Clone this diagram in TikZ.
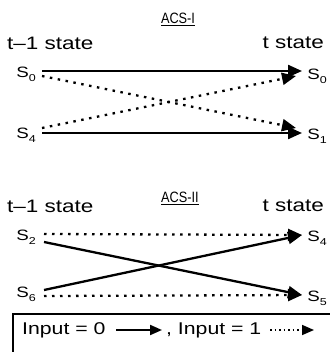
\documentclass[tikz,border=0pt]{standalone}
\usepackage{fontspec}
\setmainfont{Liberation Sans}[FakeStretch=1.25]
\newfontfamily\titlefont{Liberation Sans}[FakeStretch=0.85]
\usetikzlibrary{arrows.meta}
\newcommand{\stt}[1]{S\raisebox{-4pt}{\fontsize{10}{10}\selectfont #1}}
\begin{document}
\begin{tikzpicture}[x=1pt,y=-1pt,
  lbl/.style={font=\fontsize{18}{18}\selectfont, inner sep=0pt},
  st/.style={font=\fontsize{15}{15}\selectfont, inner sep=0pt},
  ttl/.style={font=\titlefont\fontsize{15}{15}\selectfont, inner sep=0pt},
  tip/.style={-{Triangle[length=14pt,width=12pt]}},
  zero/.style={line width=2.3pt, tip},
  one/.style={line width=2.3pt, dash pattern=on 2.5pt off 5.5pt, tip},
  legtxt/.style={font=\fontsize{17}{17}\selectfont, inner sep=0pt, anchor=west},
]
\useasboundingbox (0,0) rectangle (329,352);

% ---- ACS-I ----
\node[ttl] (t1) at (178,19) {\underline{ACS-I}};
\node[lbl, anchor=west] (p1) at (7,43) {t--1 state};
\node[lbl, anchor=east] (c1) at (324,43) {t state};
\node[st] (a0) at (26,74) {\stt{0}};
\node[st] (a4) at (26,135) {\stt{4}};
\node[st] (b0) at (317,76) {\stt{0}};
\node[st] (b1) at (317,136) {\stt{1}};
\coordinate (a0s) at (42,71);
\coordinate (a0d) at (42,76);
\coordinate (a4s) at (42,133);
\coordinate (a4d) at (42,128);
\coordinate (b0t) at (302,71);
\coordinate (b0d) at (296,76);
\coordinate (b1t) at (302,133);
\coordinate (b1d) at (296,128);
\draw[zero] (a0s) -- (b0t);
\draw[zero] (a4s) -- (b1t);
\draw[one] (a0d) -- (b1d);
\draw[one] (a4d) -- (b0d);

% ---- ACS-II ----
\node[ttl] (t2) at (180,198) {\underline{ACS-II}};
\node[lbl, anchor=west] (p2) at (7,206) {t--1 state};
\node[lbl, anchor=east] (c2) at (324,206) {t state};
\node[st] (a2) at (26,237) {\stt{2}};
\node[st] (a6) at (26,294) {\stt{6}};
\node[st] (b4) at (317,238) {\stt{4}};
\node[st] (b5) at (317,298) {\stt{5}};
\coordinate (a2d) at (44,234);
\coordinate (a2s) at (44,242);
\coordinate (a6s) at (44,290);
\coordinate (a6d) at (44,296);
\coordinate (b4t) at (302,235);
\coordinate (b5t) at (302,295);
\draw[one] (a2d) -- (b4t);
\draw[zero] (a2s) -- (b5t);
\draw[zero] (a6s) -- (b4t);
\draw[one] (a6d) -- (b5t);

% ---- legend ----
\draw[line width=1.5pt] (13,360) -- (13,314) -- (340,314);
\node[legtxt] (l0) at (22,330) {Input = 0};
\coordinate (l0a) at (116,330);
\coordinate (l0b) at (162,330);
\draw[line width=2pt, -{Triangle[length=12pt,width=10pt]}] (l0a) -- (l0b);
\node[legtxt] (l1) at (166,330) {, Input = 1};
\coordinate (l1a) at (270,330);
\coordinate (l1b) at (314,330);
\draw[line width=1.6pt, dash pattern=on 1.5pt off 3pt, -{Triangle[length=12pt,width=10pt]}] (l1a) -- (l1b);
\end{tikzpicture}
\end{document}
